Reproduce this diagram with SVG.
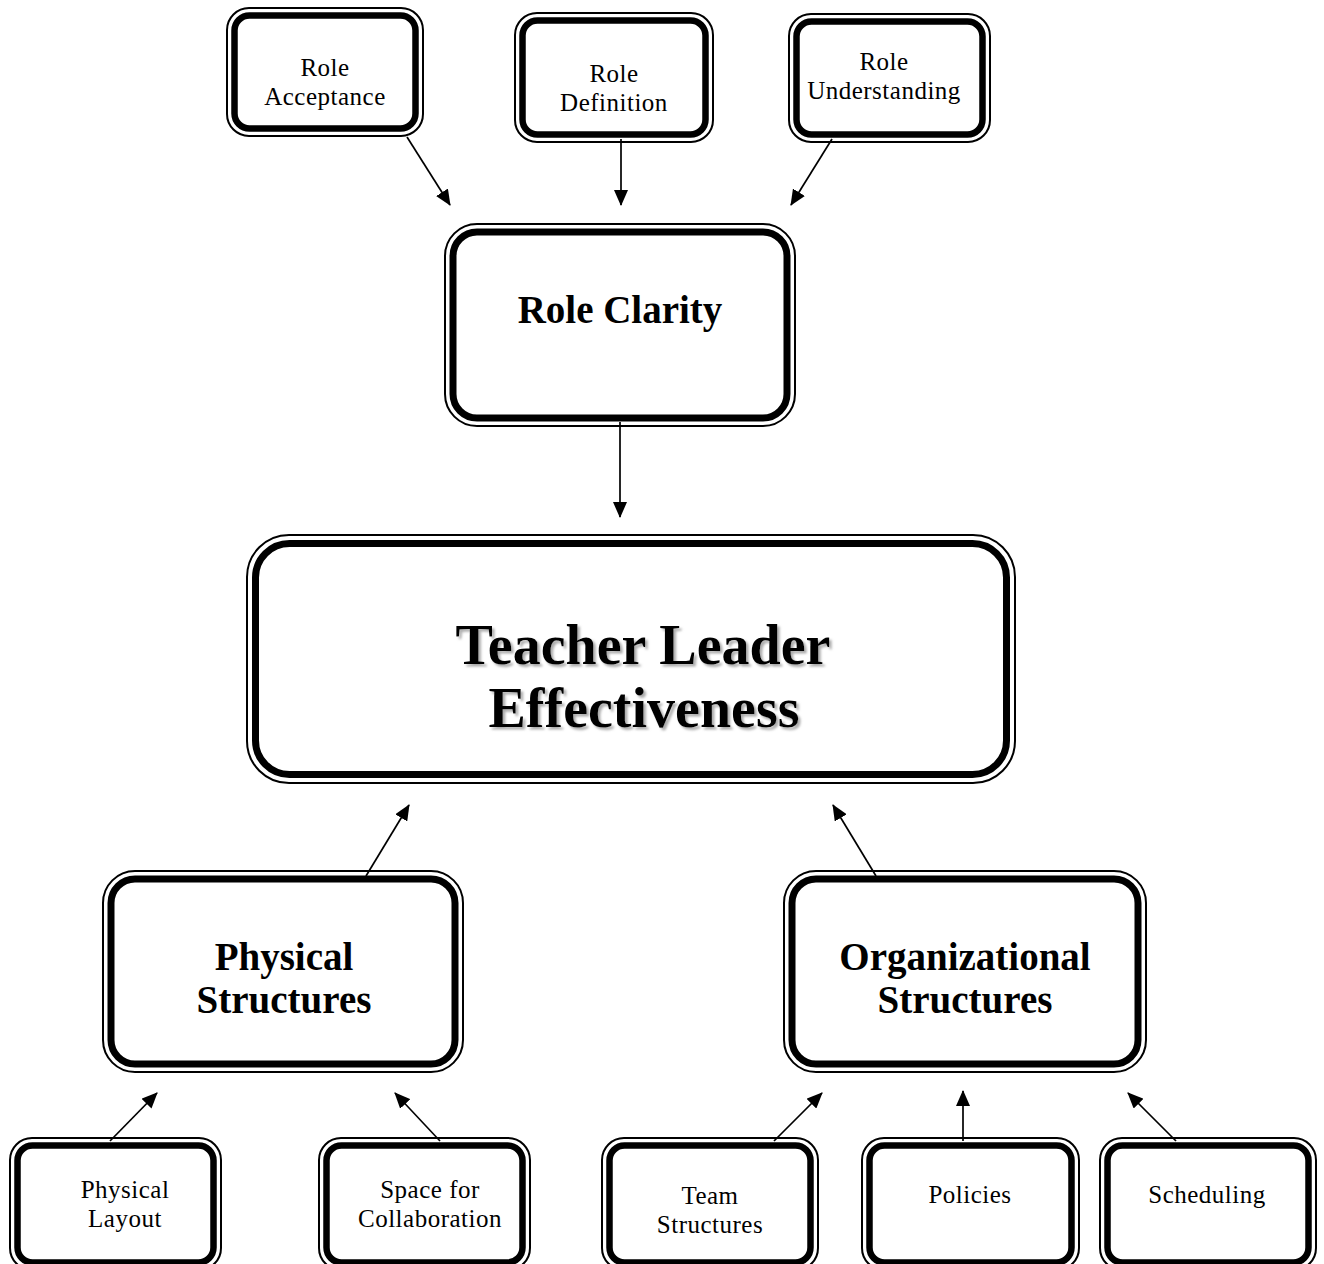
<svg xmlns="http://www.w3.org/2000/svg" width="1324" height="1264" viewBox="0 0 1324 1264">
<style>
.o{fill:none;stroke:#000;stroke-width:2}
.i{fill:#fff;stroke:#000;stroke-width:6.5}
.ib{fill:#fff;stroke:#000;stroke-width:7}
.t{font-family:"Liberation Serif","Times New Roman",serif;font-size:25px;letter-spacing:0.5px;text-anchor:middle;fill:#000}
.b{font-family:"Liberation Serif","Times New Roman",serif;font-weight:bold;font-size:39px;text-anchor:middle;fill:#000}
.h{font-family:"Liberation Serif","Times New Roman",serif;font-weight:bold;font-size:56px;text-anchor:middle;fill:#000}
.c line{stroke:#000;stroke-width:1.7;marker-end:url(#ah)}
</style>
<defs>
<marker id="ah" viewBox="0 0 16 14" refX="15" refY="7" markerWidth="16" markerHeight="14" markerUnits="userSpaceOnUse" orient="auto">
<path d="M0,0 L16,7 L0,14 z" fill="#000"/>
</marker>
<filter id="sh" x="-10%" y="-20%" width="120%" height="140%">
<feDropShadow dx="2.5" dy="2.5" stdDeviation="1" flood-color="#888" flood-opacity="0.7"/>
</filter>
</defs>
<rect width="1324" height="1264" fill="#fff"/>

<g id="connectors" class="c">
<line x1="407" y1="137" x2="450" y2="205"/>
<line x1="621" y1="139" x2="621" y2="205"/>
<line x1="832" y1="139" x2="791" y2="205"/>
<line x1="620" y1="422" x2="620" y2="517"/>
<line x1="366" y1="876" x2="409" y2="805"/>
<line x1="876" y1="876" x2="833" y2="805"/>
<line x1="110" y1="1141" x2="157" y2="1093"/>
<line x1="440" y1="1141" x2="395" y2="1093"/>
<line x1="774" y1="1141" x2="822" y2="1093"/>
<line x1="963" y1="1141" x2="963" y2="1091"/>
<line x1="1176" y1="1141" x2="1128" y2="1093"/>
</g>

<g id="role-acceptance">
<rect class="o" x="227" y="8" width="196" height="128" rx="22"/>
<rect class="i" x="234.5" y="15.5" width="181" height="113" rx="15"/>
<text class="t" x="325" y="76">Role</text>
<text class="t" x="325" y="105">Acceptance</text>
</g>

<g id="role-definition">
<rect class="o" x="515" y="13" width="198" height="129" rx="22"/>
<rect class="i" x="522.5" y="20.5" width="183" height="114" rx="15"/>
<text class="t" x="614" y="82">Role</text>
<text class="t" x="614" y="111">Definition</text>
</g>

<g id="role-understanding">
<rect class="o" x="789" y="14" width="201" height="128" rx="22"/>
<rect class="i" x="796.5" y="21.5" width="186" height="113" rx="15"/>
<text class="t" x="884" y="70">Role</text>
<text class="t" x="884" y="99">Understanding</text>
</g>

<g id="role-clarity">
<rect class="o" x="445" y="224" width="350" height="202" rx="32"/>
<rect class="ib" x="453" y="232" width="334" height="186" rx="24"/>
<text class="b" x="620" y="323">Role Clarity</text>
</g>

<g id="teacher-leader-effectiveness">
<rect class="o" x="247" y="535" width="768" height="248" rx="42"/>
<rect class="ib" x="255.5" y="543.5" width="751" height="231" rx="34"/>
<text class="h" x="643" y="664" filter="url(#sh)">Teacher Leader</text>
<text class="h" x="644" y="727" filter="url(#sh)">Effectiveness</text>
</g>

<g id="physical-structures">
<rect class="o" x="103" y="871" width="360" height="201" rx="32"/>
<rect class="ib" x="111" y="879" width="344" height="185" rx="24"/>
<text class="b" x="284" y="970">Physical</text>
<text class="b" x="284" y="1013">Structures</text>
</g>

<g id="organizational-structures">
<rect class="o" x="784" y="871" width="362" height="201" rx="32"/>
<rect class="ib" x="792" y="879" width="346" height="185" rx="24"/>
<text class="b" x="965" y="970">Organizational</text>
<text class="b" x="965" y="1013">Structures</text>
</g>

<g id="physical-layout">
<rect class="o" x="10" y="1138" width="211" height="132" rx="22"/>
<rect class="i" x="17.5" y="1145.5" width="196" height="117" rx="15"/>
<text class="t" x="125" y="1198">Physical</text>
<text class="t" x="125" y="1227">Layout</text>
</g>

<g id="space-for-collaboration">
<rect class="o" x="319" y="1138" width="211" height="132" rx="22"/>
<rect class="i" x="326.5" y="1145.5" width="196" height="117" rx="15"/>
<text class="t" x="430" y="1198">Space for</text>
<text class="t" x="430" y="1227">Collaboration</text>
</g>

<g id="team-structures">
<rect class="o" x="602" y="1138" width="216" height="132" rx="22"/>
<rect class="i" x="609.5" y="1145.5" width="201" height="117" rx="15"/>
<text class="t" x="710" y="1204">Team</text>
<text class="t" x="710" y="1233">Structures</text>
</g>

<g id="policies">
<rect class="o" x="862" y="1138" width="217" height="132" rx="22"/>
<rect class="i" x="869.5" y="1145.5" width="202" height="117" rx="15"/>
<text class="t" x="970" y="1203">Policies</text>
</g>

<g id="scheduling">
<rect class="o" x="1100" y="1138" width="216" height="132" rx="22"/>
<rect class="i" x="1107.5" y="1145.5" width="201" height="117" rx="15"/>
<text class="t" x="1207" y="1203">Scheduling</text>
</g>
</svg>
